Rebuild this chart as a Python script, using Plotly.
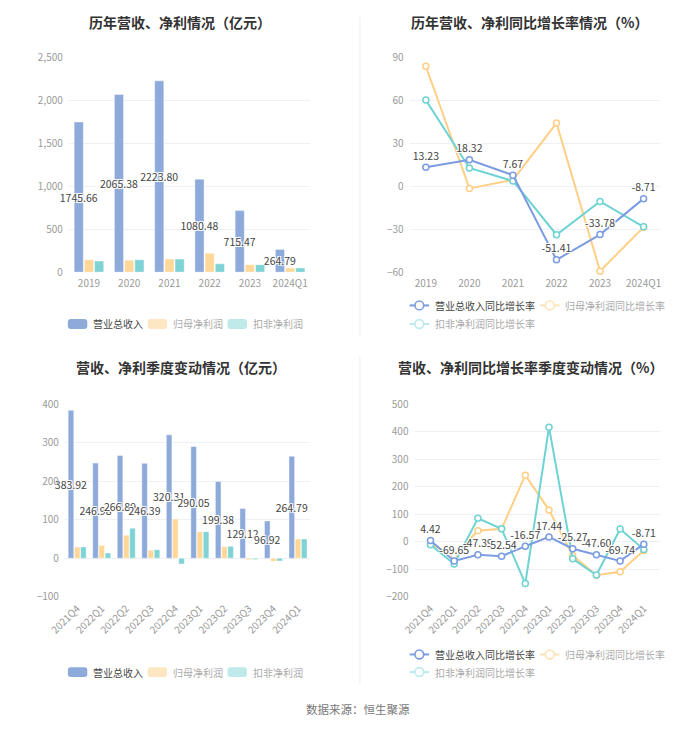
import plotly.graph_objects as go

# ---------------- data ----------------
years = ["2019", "2020", "2021", "2022", "2023", "2024Q1"]
rev_year = [1745.66, 2065.38, 2223.80, 1080.48, 715.47, 264.79]
np_year = [144, 140, 152, 220, 87, 49]
npd_year = [129, 144, 152, 98, 87, 49]

rev_yoy_year = [13.23, 18.32, 7.67, -51.41, -33.78, -8.71]
np_yoy_year = [83.6, -1.6, 4.3, 44.0, -59.3, -28.6]
npd_yoy_year = [60.0, 12.7, 3.6, -33.9, -10.7, -28.4]

quarters = ["2021Q4", "2022Q1", "2022Q2", "2022Q3", "2022Q4",
            "2023Q1", "2023Q2", "2023Q3", "2023Q4", "2024Q1"]
rev_q = [383.92, 246.98, 266.89, 246.39, 320.31, 290.05, 199.38, 129.12, 96.92, 264.79]
np_q = [29.5, 33, 60, 21, 102, 69, 30, -4, -8, 50]
npd_q = [29.5, 13.5, 78, 22, -15, 69, 31, -3, -7, 50]

rev_yoy_q = [4.42, -69.65, -47.39, -52.54, -16.57, 17.44, -25.27, -47.60, -69.74, -8.71]
np_yoy_q = [-8, -51, 40, 47, 242, 115, -50, -122, -109, -32]
npd_yoy_q = [-11, -81, 85, 47, -152, 416, -62, -121, 46, -28]

# ---------------- style ----------------
PAGE_W, PAGE_H = 700, 733
OFF = 8  # default body margin of the html page
W, H = PAGE_W - 2 * OFF, PAGE_H - 2 * OFF
FONT = "Noto Sans CJK SC"
C_REV, C_NP, C_NPD = "#8DAADB", "#FFD899", "#80D3D5"
L_REV, L_NP, L_NPD = "#7B9CE1", "#FFCF85", "#6FD3D3"
F_REV, F_NP, F_NPD = "#8DAADB", "#FDE6C2", "#C0E9EA"
F_LREV, F_LNP, F_LNPD = "#7B9CE1", "#FDE2B8", "#BDEBEB"
GRID = "#EEF0F6"
AXIS = "#9A9A9A"
TICK = "#9A9A9A"
HALO = "1px 1px 0 #fff, -1px -1px 0 #fff, 1px -1px 0 #fff, -1px 1px 0 #fff, 0 0 2px #fff"


def X(p):
    return (p - OFF) / W


def Y(p):
    return 1 - (p - OFF) / H


fig = go.Figure()

panels = {
    1: dict(xd=(53, 301), yd=(49, 269), yr=(0, 2500), dt=500, cats=years, rot=False, fmt=",d"),
    2: dict(xd=(403, 660), yd=(49, 269), yr=(-60, 90), dt=30, cats=years, rot=False, fmt=""),
    3: dict(xd=(49, 301), yd=(404, 601), yr=(-100, 400), dt=100, cats=quarters, rot=True, fmt=""),
    4: dict(xd=(408, 660), yd=(404, 601), yr=(-200, 500), dt=100, cats=quarters, rot=True, fmt=""),
}


def ax_name(kind, i):
    return kind + ("" if i == 1 else str(i))


def add_bars(i, cats, rev, np_, npd):
    xa, ya = "x" if i == 1 else f"x{i}", "y" if i == 1 else f"y{i}"
    edge = dict(color="rgba(255,255,255,0.7)", width=0.6)
    fig.add_trace(go.Bar(x=cats, y=rev, name="营业总收入", marker=dict(color=C_REV, line=edge),
                         text=[f"{v:.2f}" for v in rev], textposition="inside", insidetextanchor="middle",
                         textangle=0, constraintext="none",
                         textfont=dict(family=FONT, size=10.5, color="#444", shadow=HALO),
                         cliponaxis=False, xaxis=xa, yaxis=ya, showlegend=False))
    fig.add_trace(go.Bar(x=cats, y=np_, name="归母净利润", marker=dict(color=C_NP, line=edge),
                         xaxis=xa, yaxis=ya, showlegend=False))
    fig.add_trace(go.Bar(x=cats, y=npd, name="扣非净利润", marker=dict(color=C_NPD, line=edge),
                         xaxis=xa, yaxis=ya, showlegend=False))


def add_lines(i, cats, rev, np_, npd):
    xa, ya = f"x{i}", f"y{i}"
    for vals, col, nm in [(np_, L_NP, "归母净利润同比增长率"), (npd, L_NPD, "扣非净利润同比增长率")]:
        fig.add_trace(go.Scatter(x=cats, y=vals, name=nm, mode="lines+markers",
                                 line=dict(color=col, width=2),
                                 marker=dict(symbol="circle", size=6, color="#fff", line=dict(color=col, width=1.5)),
                                 xaxis=xa, yaxis=ya, showlegend=False, cliponaxis=False))
    fig.add_trace(go.Scatter(x=cats, y=rev, name="营业总收入同比增长率", mode="lines+markers+text",
                             line=dict(color=L_REV, width=2),
                             marker=dict(symbol="circle", size=6, color="#fff", line=dict(color=L_REV, width=1.5)),
                             text=[f"{v:.2f}" for v in rev], textposition="top center",
                             textfont=dict(family=FONT, size=10.5, color="#444", shadow=HALO),
                             xaxis=xa, yaxis=ya, showlegend=False, cliponaxis=False))


add_bars(1, years, rev_year, np_year, npd_year)
add_lines(2, years, rev_yoy_year, np_yoy_year, npd_yoy_year)
add_bars(3, quarters, rev_q, np_q, npd_q)
add_lines(4, quarters, rev_yoy_q, np_yoy_q, npd_yoy_q)

layout = dict(
    width=W, height=H, margin=dict(l=0, r=0, t=0, b=0),
    paper_bgcolor="#fff", plot_bgcolor="#fff",
    font=dict(family=FONT, size=10, color=TICK),
    barmode="group", bargap=0.24, bargroupgap=0.1,
    showlegend=False,
)

for i, p in panels.items():
    xn, yn = ax_name("xaxis", i), ax_name("yaxis", i)
    yid = "y" if i == 1 else f"y{i}"
    xid = "x" if i == 1 else f"x{i}"
    d0, d1 = Y(p["yd"][1]), Y(p["yd"][0])
    layout[xn] = dict(domain=[X(p["xd"][0]), X(p["xd"][1])], anchor=yid, type="category",
                      showline=False, ticks="", showgrid=False, zeroline=False,
                      tickangle=-45 if p["rot"] else 0,
                      tickfont=dict(family=FONT, size=10, color=TICK),
                      ticklabelstandoff=4 if not p["rot"] else 3)
    layout[yn] = dict(domain=[d0, d1], anchor=xid, range=list(p["yr"]), dtick=p["dt"],
                      tick0=0, showgrid=True, gridcolor=GRID, gridwidth=1, zeroline=False,
                      showline=False, ticks="", tickformat=p["fmt"],
                      tickfont=dict(family=FONT, size=10, color=TICK),
                      ticklabelstandoff=5)
    lo, hi = p["yr"]
    pos = d0 + (0 - lo) / (hi - lo) * (d1 - d0)
    n = len(p["cats"])
    zid = i + 4
    layout[f"xaxis{zid}"] = dict(overlaying=xid, anchor="free", position=pos, type="linear",
                                 range=[-0.5, n - 0.5], tickvals=list(range(n)),
                                 showticklabels=False, ticks="outside", ticklen=4, tickwidth=1,
                                 tickcolor=AXIS, showline=True, linecolor=AXIS, linewidth=1.5,
                                 showgrid=False, zeroline=False)

fig.update_layout(**layout)

annotations = []
shapes = []

for txt, cx, cy in [("历年营收、净利情况（亿元）", 167, 13),
                    ("历年营收、净利同比增长率情况（%）", 526, 13),
                    ("营收、净利季度变动情况（亿元）", 168, 366),
                    ("营收、净利同比增长率季度变动情况（%）", 527, 366)]:
    annotations.append(dict(text=txt, x=X(cx), y=Y(cy), xref="paper", yref="paper",
                            xanchor="center", yanchor="middle", showarrow=False,
                            font=dict(family=FONT, size=14, color="#333", weight="bold")))


def rrect(x0, yc, w=20, h=10, r=3, color="#000"):
    y0, y1 = yc - h / 2, yc + h / 2
    path = (f"M {X(x0 + r)} {Y(y0)} L {X(x0 + w - r)} {Y(y0)} Q {X(x0 + w)} {Y(y0)} {X(x0 + w)} {Y(y0 + r)} "
            f"L {X(x0 + w)} {Y(y1 - r)} Q {X(x0 + w)} {Y(y1)} {X(x0 + w - r)} {Y(y1)} "
            f"L {X(x0 + r)} {Y(y1)} Q {X(x0)} {Y(y1)} {X(x0)} {Y(y1 - r)} "
            f"L {X(x0)} {Y(y0 + r)} Q {X(x0)} {Y(y0)} {X(x0 + r)} {Y(y0)} Z")
    shapes.append(dict(type="path", path=path, xref="paper", yref="paper",
                       fillcolor=color, line=dict(width=0)))


def legend_text(x, yc, txt, color):
    annotations.append(dict(text=txt, x=X(x), y=Y(yc), xref="paper", yref="paper",
                            xanchor="left", yanchor="middle", showarrow=False,
                            font=dict(family=FONT, size=10, color=color)))


def line_icon(x0, yc, color):
    shapes.append(dict(type="line", x0=X(x0), x1=X(x0 + 20), y0=Y(yc), y1=Y(yc),
                       xref="paper", yref="paper", line=dict(color=color, width=2)))
    shapes.append(dict(type="circle", x0=X(x0 + 10 - 4.5), x1=X(x0 + 10 + 4.5),
                       y0=Y(yc - 4.5), y1=Y(yc + 4.5), xref="paper", yref="paper",
                       fillcolor="#fff", line=dict(color=color, width=1.6)))


bar_leg = [("营业总收入", F_REV, "#444"), ("归母净利润", F_NP, "#AAA"), ("扣非净利润", F_NPD, "#AAA")]
for yc in (322, 678):
    for (txt, col, tcol), x0 in zip(bar_leg, (52, 134, 216)):
        rrect(x0, yc, color=col)
        legend_text(x0 + 24, yc, txt, tcol)

line_leg = [("营业总收入同比增长率", F_LREV, "#444"), ("归母净利润同比增长率", F_LNP, "#AAA"),
            ("扣非净利润同比增长率", F_LNPD, "#AAA")]
for y1, y2 in ((303, 322), (660, 678)):
    pos = [(403, y1), (537, y1), (403, y2)]
    for (txt, col, tcol), (x0, yc) in zip(line_leg, pos):
        line_icon(x0, yc, col)
        legend_text(x0 + 24, yc, txt, tcol)

shapes.append(dict(type="line", x0=X(352), x1=X(352), y0=Y(8), y1=Y(335), xref="paper", yref="paper",
                   line=dict(color="#EEEEEE", width=1)))
shapes.append(dict(type="line", x0=X(352), x1=X(352), y0=Y(355), y1=Y(690), xref="paper", yref="paper",
                   line=dict(color="#EEEEEE", width=1)))

annotations.append(dict(text="数据来源：恒生聚源", x=X(350), y=Y(716), xref="paper", yref="paper",
                        xanchor="center", yanchor="middle", showarrow=False,
                        font=dict(family=FONT, size=11.5, color="#777")))

fig.update_layout(annotations=annotations, shapes=shapes)

fig.write_html("out.html", config={"displayModeBar": False})
